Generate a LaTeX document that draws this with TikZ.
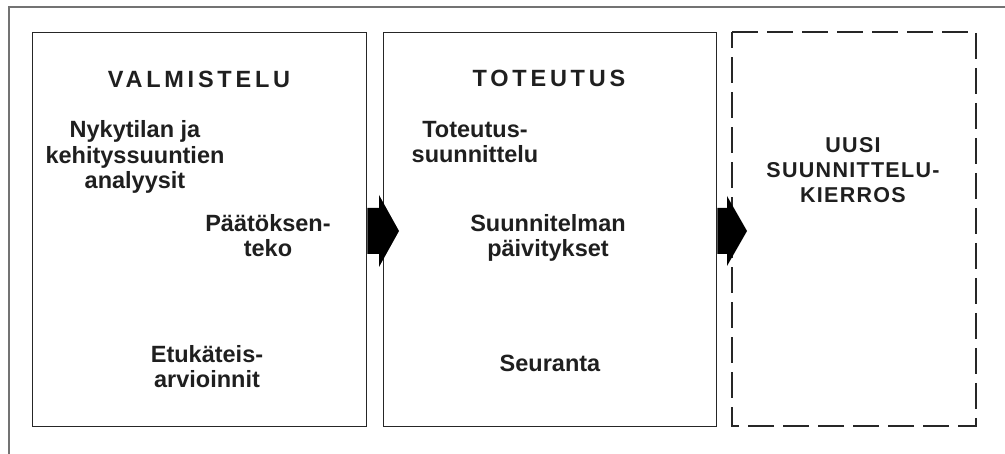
\documentclass[tikz,border=0pt]{standalone}
\usepackage{fontspec}
\setmainfont{Liberation Sans}
\begin{document}
\begin{tikzpicture}[x=1pt,y=-1pt,
  txt/.style={font=\fontsize{23.5}{25.5}\selectfont\bfseries, text=black!88, align=center, inner sep=0pt, anchor=base},
  ttl/.style={font=\fontsize{23.5}{26}\selectfont\bfseries\addfontfeature{LetterSpace=16}, text=black!88, inner sep=0pt, anchor=base},
  panel/.style={draw=black!85, line width=1.4pt, inner sep=0pt},
  dpanel/.style={draw=black!85, line width=1.4pt, dash pattern=on 26pt off 9pt, inner sep=0pt},
  blockarrow/.style={fill=black, draw=none}]
\useasboundingbox (0,0) rectangle (1005,454);
% outer frame (cut off at right and bottom)
\coordinate (fbl) at (9,454);
\coordinate (ftl) at (9,7);
\coordinate (ftr) at (1005,7);
\draw[black!55, line width=1.3pt] (fbl) -- (ftl) -- (ftr);
% panels
\node[panel, minimum width=334pt, minimum height=394pt, anchor=north west] (b1) at (32,32) {};
\node[panel, minimum width=333pt, minimum height=394pt, anchor=north west] (b2) at (383,32) {};
\draw[dpanel] (732,32) -- (976,32) -- (976,426) -- (732,426) -- cycle;
\node[inner sep=0pt, minimum width=244pt, minimum height=394pt, anchor=north west] (b3) at (732,32) {};
% block arrows
\fill[blockarrow] (b1.east |- 0,208) -- (379,208) -- (379,195) -- (399,231) -- (379,267) -- (379,254) -- (b1.east |- 0,254) -- cycle;
\fill[blockarrow] (b2.east |- 0,208) -- (727,208) -- (727,196) -- (747,231) -- (727,266) -- (727,254) -- (b2.east |- 0,254) -- cycle;
% texts (anchor = baseline of last line)
\node[ttl] (t1) at (199,88) {VALMISTELU};
\node[txt] (n1) at (135,189) {Nykytilan ja\\kehityssuuntien\\analyysit};
\node[txt] (n2) at (268,257) {Päätöksen-\\teko};
\node[txt] (n3) at (207,388) {Etukäteis-\\arvioinnit};
\node[ttl] (t2) at (549,87) {TOTEUTUS};
\node[txt] (m1) at (475,163) {Toteutus-\\suunnittelu};
\node[txt] (m2) at (548,257) {Suunnitelman\\päivitykset};
\node[txt] (m3) at (550,372) {Seuranta};
\node[ttl, align=center, font=\fontsize{21.5}{25}\selectfont\bfseries\addfontfeature{LetterSpace=6}] (t3) at (853,203) {UUSI\\SUUNNITTELU-\\KIERROS};
\end{tikzpicture}
\end{document}
